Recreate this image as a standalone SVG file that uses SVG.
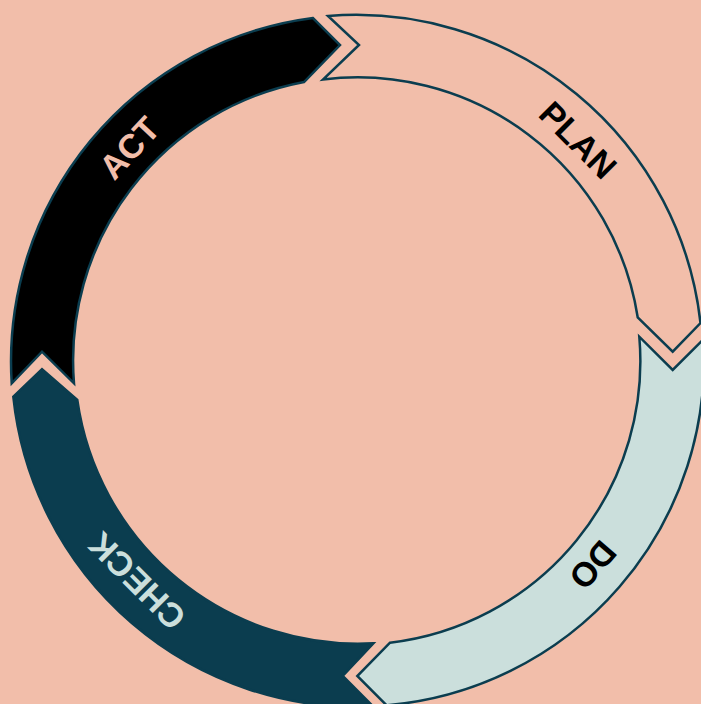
<svg xmlns="http://www.w3.org/2000/svg" width="701" height="704" viewBox="0 0 701 704">
<style>
.seg{stroke:#0B3D4F;stroke-width:2.5;stroke-linejoin:miter}
.lbl{font-family:"Liberation Sans",Arial,sans-serif;font-size:34px;font-weight:bold;text-anchor:middle;dominant-baseline:central}
</style>
<rect width="701" height="704" fill="#F2BEAA"/>
<g id="connectors"/>
<g id="plan">
<path class="seg" fill="#F2BEAA" d="M328,16 A346.5,346.5 0 0 1 700.5,323 L672.7,351.7 L637.7,317.3 A283.5,283.5 0 0 0 323,79.5 L359,45 Z"/>
<text class="lbl" fill="#000000" x="357.5" y="48.5" transform="rotate(45 357.5 360.5)">PLAN</text>
</g>
<g id="do">
<path class="seg" fill="#CBDFDC" d="M703.4,339.3 A346.5,346.5 0 0 1 386.6,705.3 L357.3,676 L390,642.7 A283.5,283.5 0 0 0 639.3,336.7 L672.7,370 Z"/>
<text class="lbl" fill="#000000" x="357.5" y="48.5" transform="rotate(131 357.5 360.5)">DO</text>
</g>
<g id="check">
<path class="seg" fill="#0B3D4F" d="M373.3,706.6 A346.5,346.5 0 0 1 13.3,396.7 L42,369.3 L77.3,400 A283.5,283.5 0 0 0 373.3,643.3 L342.7,676 Z"/>
<text class="lbl" fill="#CBDFDC" x="357.5" y="48.5" transform="rotate(225 357.5 360.5)">CHECK</text>
</g>
<g id="act">
<path class="seg" fill="#000000" d="M11.7,383.3 A346.5,346.5 0 0 1 313,18 L340,45 L304,82 A283.5,283.5 0 0 0 74,383.3 L42,351.7 Z"/>
<text class="lbl" fill="#F2BEAA" x="357.5" y="48.5" transform="rotate(313 357.5 360.5)">ACT</text>
</g>
</svg>
